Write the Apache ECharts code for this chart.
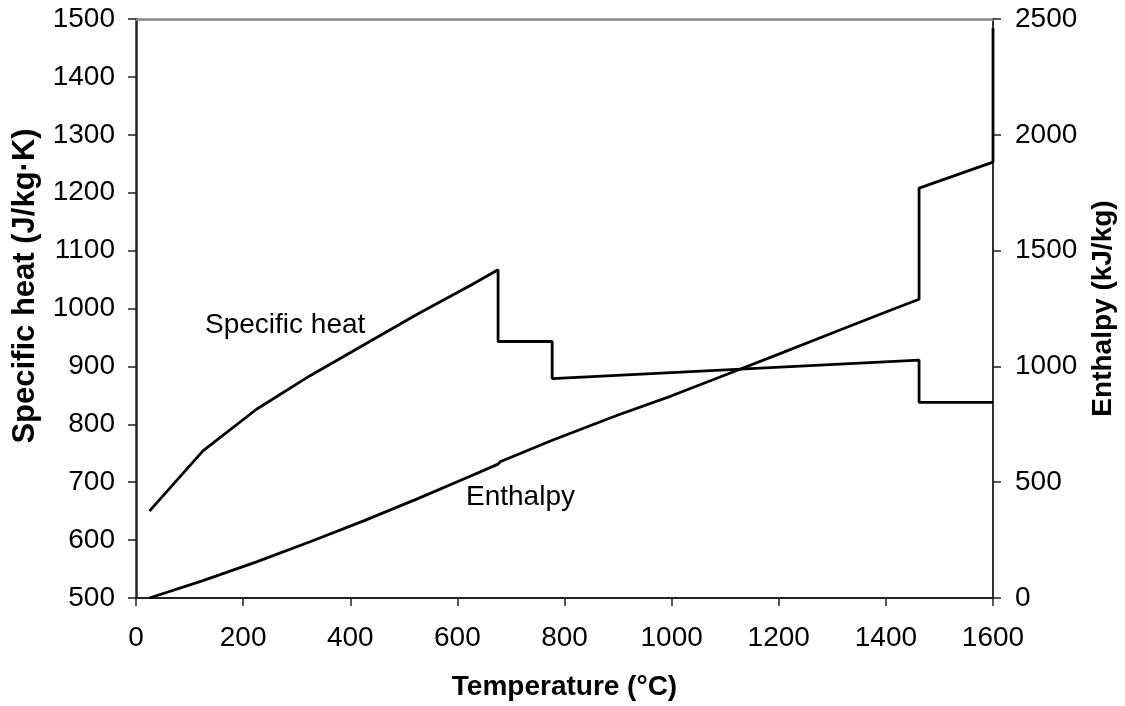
<!DOCTYPE html>
<html>
<head>
<meta charset="utf-8">
<script src="https://cdn.jsdelivr.net/npm/echarts@6/dist/echarts.min.js"></script>
<style>
  html, body { margin: 0; padding: 0; background: #fff; }
  #chart { width: 1125px; height: 706px; }
</style>
</head>
<body>
<div id="chart"></div>
<script>
// Specific heat of steel versus temperature (J/kg·K)
const cpTemp  = [25, 125, 225, 325, 425, 525, 625, 676, 676, 777, 777, 1462, 1462, 1600];
const cpValue = [650, 754, 826, 884, 937, 990, 1040, 1067, 943, 943, 879, 911, 838, 838];

// Enthalpy versus temperature (kJ/kg)
const hTemp  = [25, 125, 225, 325, 425, 525, 625, 676, 680, 776, 900, 1000, 1100, 1200, 1300, 1400, 1462, 1462, 1600, 1600];
const hValue = [0, 75, 156, 243, 333, 428, 527, 578, 588, 680, 790, 873, 963, 1053, 1144, 1235, 1290, 1770, 1882, 2460];

const FONT = '"Liberation Sans", Arial, sans-serif';
const TICK_SIZE = 28;
const TITLE_SIZE = 28;

const cpData = cpTemp.map((t, i) => [t, cpValue[i]]);
const hData = hTemp.map((t, i) => [t, hValue[i]]);

const chart = echarts.init(document.getElementById('chart'), null, { renderer: 'canvas' });

const plain = v => String(v);
const baseLabel = { color: '#000', fontFamily: FONT, fontSize: TICK_SIZE, formatter: plain };
const titleStyle = { color: '#000', fontFamily: FONT, fontSize: TITLE_SIZE, fontWeight: 'bold' };

chart.setOption({
  animation: false,
  backgroundColor: '#fff',
  grid: { left: 136, right: 132, top: 19, bottom: 107, containLabel: false },
  xAxis: [
    {
      type: 'value', min: 0, max: 1600, interval: 200, position: 'bottom',
      name: 'Temperature (°C)', nameLocation: 'middle', nameGap: 75,
      nameTextStyle: titleStyle,
      axisLine: { show: true, onZero: false, lineStyle: { color: '#222', width: 2 } },
      axisTick: { show: true, length: 8, lineStyle: { color: '#222', width: 1.5 } },
      axisLabel: Object.assign({ margin: 26 }, baseLabel),
      splitLine: { show: false }
    },
    {
      type: 'value', min: 0, max: 1600, interval: 200, position: 'top',
      axisLine: { show: true, onZero: false, lineStyle: { color: '#888', width: 2.5 } },
      axisTick: { show: false }, axisLabel: { show: false }, splitLine: { show: false }
    }
  ],
  yAxis: [
    {
      type: 'value', min: 500, max: 1500, interval: 100, position: 'left',
      axisLine: { show: true, onZero: false, lineStyle: { color: '#222', width: 2.5 } },
      axisTick: { show: true, length: 8, lineStyle: { color: '#222', width: 1.5 } },
      axisLabel: Object.assign({ margin: 21 }, baseLabel),
      splitLine: { show: false }
    },
    {
      type: 'value', min: 0, max: 2500, interval: 500, position: 'right',
      name: 'Enthalpy (kJ/kg)', nameLocation: 'middle', nameGap: 96,
      nameTextStyle: titleStyle,
      axisLine: { show: true, onZero: false, lineStyle: { color: '#333', width: 2 } },
      axisTick: { show: true, length: 8, lineStyle: { color: '#222', width: 1.5 } },
      axisLabel: Object.assign({ margin: 22 }, baseLabel),
      splitLine: { show: false }
    },
    {
      // inner half of the crossing ticks on the enthalpy axis
      type: 'value', min: 0, max: 2500, interval: 500, position: 'right',
      axisLine: { show: false },
      axisTick: { show: true, inside: true, length: 8, lineStyle: { color: '#222', width: 1.5 } },
      axisLabel: { show: false }, splitLine: { show: false }
    }
  ],
  graphic: [
    {
      // left axis title, rotated to read bottom-to-top
      type: 'text', x: 25, y: 286, rotation: Math.PI / 2,
      style: {
        text: 'Specific heat (J/kg·K)', fill: '#000',
        font: 'bold 31px ' + FONT, align: 'center', verticalAlign: 'middle'
      }
    },
    { type: 'text', left: 205, top: 311, style: { text: 'Specific heat', fill: '#000', font: '28px ' + FONT } },
    { type: 'text', left: 466, top: 483, style: { text: 'Enthalpy', fill: '#000', font: '28px ' + FONT } }
  ],
  series: [
    {
      name: 'Specific heat', type: 'line', xAxisIndex: 0, yAxisIndex: 0,
      data: cpData, showSymbol: false, symbol: 'none',
      lineStyle: { color: '#000', width: 2.8 }, z: 5
    },
    {
      name: 'Enthalpy', type: 'line', xAxisIndex: 0, yAxisIndex: 1,
      data: hData, showSymbol: false, symbol: 'none',
      lineStyle: { color: '#000', width: 2.8 }, z: 5
    }
  ]
});
</script>
</body>
</html>
